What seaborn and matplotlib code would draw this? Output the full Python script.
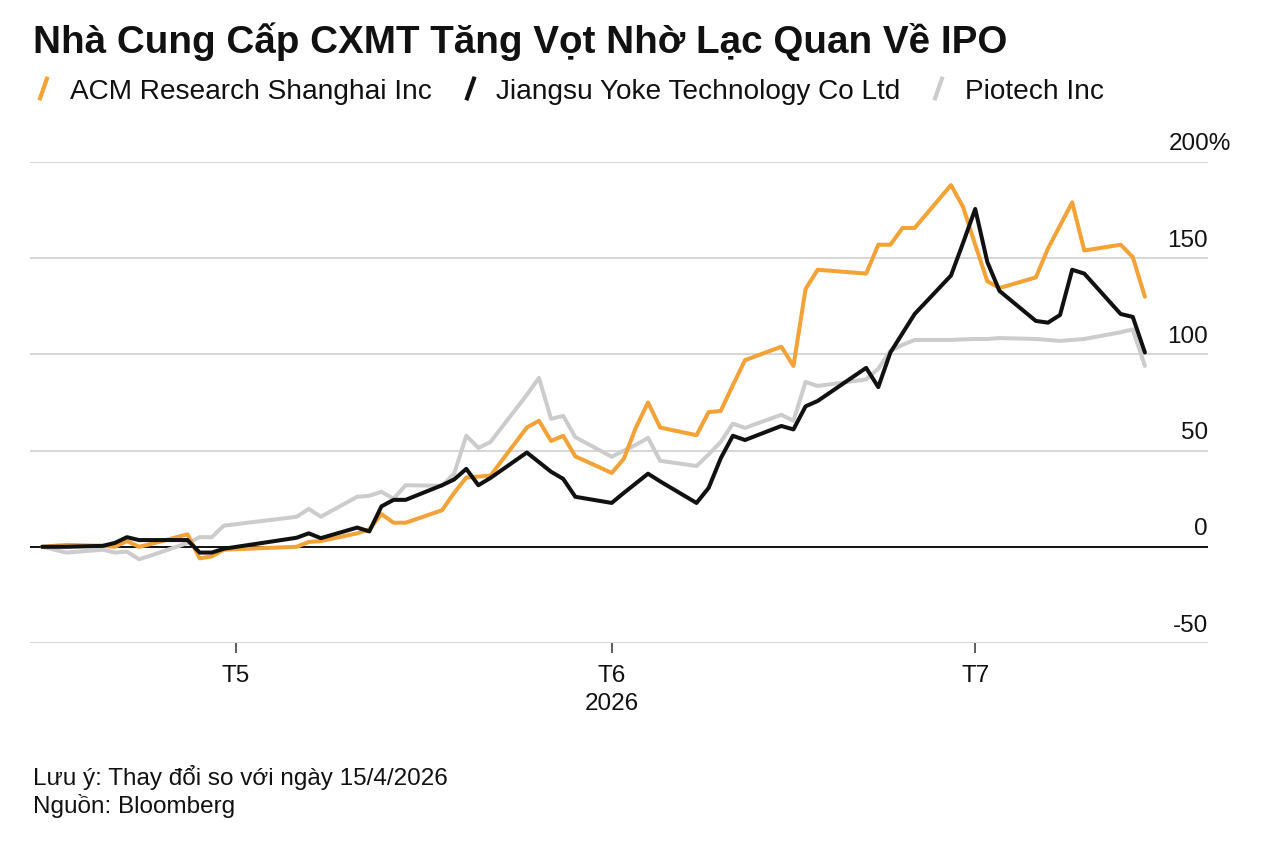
import numpy as np
import pandas as pd
import matplotlib
matplotlib.use("Agg")
import matplotlib.pyplot as plt
import matplotlib.transforms as mtrans
from matplotlib.path import Path
from matplotlib.lines import Line2D
import seaborn as sns

# trading days since 15/4/2026
dates = [
    "2026-04-15", "2026-04-16", "2026-04-17", "2026-04-20", "2026-04-21", "2026-04-22",
    "2026-04-23", "2026-04-24", "2026-04-27", "2026-04-28", "2026-04-29", "2026-04-30",
    "2026-05-06", "2026-05-07", "2026-05-08", "2026-05-11", "2026-05-12", "2026-05-13",
    "2026-05-14", "2026-05-15", "2026-05-18", "2026-05-19", "2026-05-20", "2026-05-21",
    "2026-05-22", "2026-05-25", "2026-05-26", "2026-05-27", "2026-05-28", "2026-05-29",
    "2026-06-01", "2026-06-02", "2026-06-03", "2026-06-04", "2026-06-05", "2026-06-08",
    "2026-06-09", "2026-06-10", "2026-06-11", "2026-06-12", "2026-06-15", "2026-06-16",
    "2026-06-17", "2026-06-18", "2026-06-22", "2026-06-23", "2026-06-24", "2026-06-25",
    "2026-06-26", "2026-06-29", "2026-06-30", "2026-07-01", "2026-07-02", "2026-07-03",
    "2026-07-06", "2026-07-07", "2026-07-08", "2026-07-09", "2026-07-10", "2026-07-13",
    "2026-07-14", "2026-07-15",
]

acm = [
    0, 0.5, 1, 0.5, 0, 3, 0, 1.5, 6.5, -6, -5, -1.5,
    0, 2.5, 3, 7, 9, 17, 12.5, 12.5, 19, 28, 36, 36.5, 37, 62, 65.5, 55, 57.7, 47,
    38.4, 45.7, 62, 75, 62, 58, 70, 70.6, 84, 97, 104, 94, 134, 144, 142, 157, 157,
    165.7, 165.7, 188, 176.6,
    157, 138, 134.5, 140, 155, 167, 179, 154, 157, 150.6, 130,
]
yoke = [
    0, 0, 0, 0.5, 2, 5, 3.5, 3.5, 3.5, -3, -3, -1,
    4.7, 7, 4.5, 10, 8, 21, 24.4, 24.4, 32, 35, 40.5, 32, 35.8, 49, 44, 39, 35.3, 26,
    22.8, 28, 33, 38, 34, 22.8, 30.6, 46, 57.7, 55.5, 62.8, 61, 73, 75.8, 93, 83, 101,
    111, 121, 141, 158,
    175.6, 148, 133, 117.4, 116.5, 120.5, 144, 142, 121, 119.5, 101,
]
piotech = [
    0, -1.5, -3, -1.5, -3, -2.5, -6.5, -4.5, 2, 5, 5, 11,
    15.6, 19.7, 15.6, 26, 26.5, 28.6, 25, 32, 31.7, 38, 57.7, 51.4, 54.5, 79, 87.8,
    66.5, 68, 57,
    46.8, 50, 53, 56.6, 44.7, 42, 48, 54.5, 64, 61.8, 68.6, 65.5, 85.7, 83.6, 87, 92.5,
    101.8, 105, 107.5, 107.5, 107.8,
    108, 108, 108.5, 108, 107.5, 107, 107.5, 108, 111.5, 113, 94,
]

names = ["ACM Research Shanghai Inc", "Jiangsu Yoke Technology Co Ltd", "Piotech Inc"]
colors = {names[0]: "#F2A236", names[1]: "#111111", names[2]: "#CCCCCC"}
y_ticks = [-50, 0, 50, 100, 150, 200]
x_ticks = ["2026-05-01", "2026-06-01", "2026-07-01"]
x_labels = ["T5", "T6\n2026", "T7"]

df = pd.DataFrame({"date": pd.to_datetime(dates), names[0]: acm, names[1]: yoke, names[2]: piotech})
long = df.melt(id_vars="date", var_name="series", value_name="pct")

sns.set_theme(style="white")
plt.rcParams["font.family"] = ["Liberation Sans", "DejaVu Sans"]

fig = plt.figure(figsize=(12.64, 8.45), dpi=100)
ax = fig.add_axes([30 / 1264, 1 - 644 / 845, (1208 - 30) / 1264, (644 - 163) / 845])

# gray first so the coloured lines sit on top
for name in [names[2], names[0], names[1]]:
    sub = long[long["series"] == name]
    sns.lineplot(data=sub, x="date", y="pct", color=colors[name], linewidth=2.9,
                 ax=ax, legend=False, zorder=3)

ax.set_xlim(pd.Timestamp("2026-04-14"), pd.Timestamp("2026-07-20 05:00"))
ax.set_ylim(-50, 200)
for s in ax.spines.values():
    s.set_visible(False)

ax.set_yticks(y_ticks)
ax.set_yticklabels([f"{v}%" if v == 200 else f"{v}" for v in y_ticks])
ax.yaxis.set_ticks_position("right")
ax.tick_params(axis="y", length=0, pad=0, labelsize=17.5, labelright=True, labelleft=False,
               labelcolor="#111111")
ax.grid(axis="y", color="#D3D3D3", linewidth=1.3)
ax.grid(axis="x", visible=False)
ax.axhline(0, color="#111111", linewidth=1.4, zorder=2)
offset = mtrans.ScaledTranslation(0, 0.21, fig.dpi_scale_trans)
pct_shift = mtrans.ScaledTranslation(0.23, 0, fig.dpi_scale_trans)
for v, lbl in zip(y_ticks, ax.get_yticklabels()):
    lbl.set_horizontalalignment("right")
    t = lbl.get_transform() + offset
    if v == 200:
        t = t + pct_shift  # the % sign hangs past the number column
    lbl.set_transform(t)

ax.set_xticks(pd.to_datetime(x_ticks))
ax.set_xticklabels(x_labels, linespacing=1.35)
ax.tick_params(axis="x", bottom=True, length=7, width=1.1, color="#333333", pad=8,
               labelsize=17.5, labelcolor="#111111")
ax.set_xlabel("")
ax.set_ylabel("")

# legend with slanted stroke markers
stroke = Path([(-0.35, -1), (0.35, 1)], [Path.MOVETO, Path.LINETO])
handles = [Line2D([], [], linestyle="none", marker=stroke, markersize=17,
                  markeredgewidth=3, markeredgecolor=colors[n], markerfacecolor="none")
           for n in names]
fig.legend(handles, names, loc="center left", bbox_to_anchor=(4 / 1264, 1 - 92 / 845),
           ncol=3, frameon=False, fontsize=20.2, handlelength=1.0, handletextpad=0.45,
           columnspacing=0.85, labelcolor="#111111")

fig.text(33 / 1264, 1 - 42 / 845, "Nhà Cung Cấp CXMT Tăng Vọt Nhờ Lạc Quan Về IPO",
         fontsize=27.8, fontweight="bold", va="center", ha="left", color="#111111")
fig.text(33 / 1264, 1 - 778 / 845, "Lưu ý: Thay đổi so với ngày 15/4/2026",
         fontsize=17.5, va="center", ha="left", color="#111111")
fig.text(33 / 1264, 1 - 806 / 845, "Nguồn: Bloomberg",
         fontsize=17.5, va="center", ha="left", color="#111111")

fig.savefig("out.png", dpi=100, facecolor="white")
